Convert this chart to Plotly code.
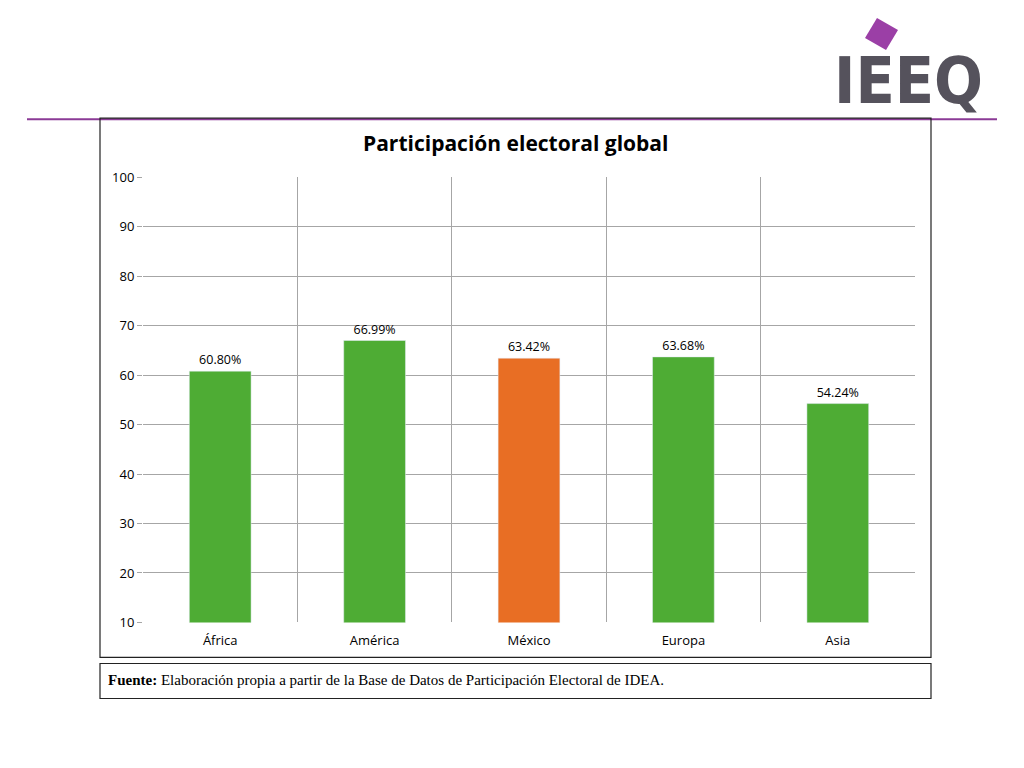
import plotly.graph_objects as go

categories = ["África", "América", "México", "Europa", "Asia"]
values = [60.80, 66.99, 63.42, 63.68, 54.24]
labels = ["60.80%", "66.99%", "63.42%", "63.68%", "54.24%"]
colors = ["#4EAC34", "#4EAC34", "#E86E24", "#4EAC34", "#4EAC34"]

W, H = 1024, 768
def px(x): return x / W
def py(y):
    yc = (y - 8.9) / 0.976
    return 1 - yc / H

x = list(range(len(categories)))
fig = go.Figure(go.Bar(x=x, y=values, base=0, marker_color=colors, width=0.4,
                       text=labels, textposition="outside", cliponaxis=False,
                       textfont=dict(family="Open Sans", size=12.5, color="#000")))

fig.update_layout(
    width=W, height=H, margin=dict(l=0, r=0, t=0, b=0),
    paper_bgcolor="white", plot_bgcolor="white", showlegend=False,
    font=dict(family="Open Sans", size=13, color="#000"),
    xaxis=dict(domain=[px(143), px(915)], range=[-0.5, 4.5], tickvals=x, ticktext=categories,
               showgrid=False, zeroline=False, showline=False, ticks="outside", ticklen=6,
               tickcolor="rgba(0,0,0,0)",
               minor=dict(tickvals=[-0.5, 0.5, 1.5, 2.5, 3.5, 4.5], showgrid=True,
                          gridcolor="#A6A6A6", gridwidth=1)),
    yaxis=dict(domain=[py(622), py(177)], range=[10, 100], dtick=10, showgrid=True,
               gridcolor="#A6A6A6", zeroline=False, showline=False, ticks="outside",
               ticklen=5, tickcolor="#A6A6A6"),
    shapes=[
        dict(type="line", xref="paper", yref="paper", x0=px(27), x1=px(997), y0=py(119), y1=py(119),
             line=dict(color="#8B3A96", width=2)),
        dict(type="rect", xref="paper", yref="paper", x0=px(100), x1=px(931), y0=py(657), y1=py(118),
             line=dict(color="#222", width=1.2), fillcolor="rgba(0,0,0,0)"),
        dict(type="rect", xref="paper", yref="paper", x0=px(100), x1=px(931), y0=py(698), y1=py(663),
             line=dict(color="#222", width=1.2), fillcolor="rgba(0,0,0,0)"),
        dict(type="path", xref="paper", yref="paper",
             path=f"M {px(877)} {py(18)} L {px(898)} {py(30)} L {px(886)} {py(50)} L {px(865)} {py(38)} Z",
             fillcolor="#9B3FA6", line=dict(width=0)),
    ],
    annotations=[
        dict(text="<b>Participación electoral global</b>", xref="paper", yref="paper",
             x=px(515), y=py(127), showarrow=False, font=dict(family="Open Sans", size=21, color="#000")),
        dict(text="<b>Fuente:</b> Elaboración propia a partir de la Base de Datos de Participación Electoral de IDEA.",
             xref="paper", yref="paper", x=px(106), y=py(690), xanchor="left", showarrow=False,
             font=dict(family="Liberation Serif", size=15, color="#000")),
        dict(text="<b>IEEQ</b>", xref="paper", yref="paper", x=px(832), y=py(42), xanchor="left",
             showarrow=False, font=dict(family="DejaVu Sans Condensed", size=64, color="#55525C")),
    ],
)
fig.write_html("out.html", config={"displayModeBar": False},
               post_script="document.body.style.margin='0';")
